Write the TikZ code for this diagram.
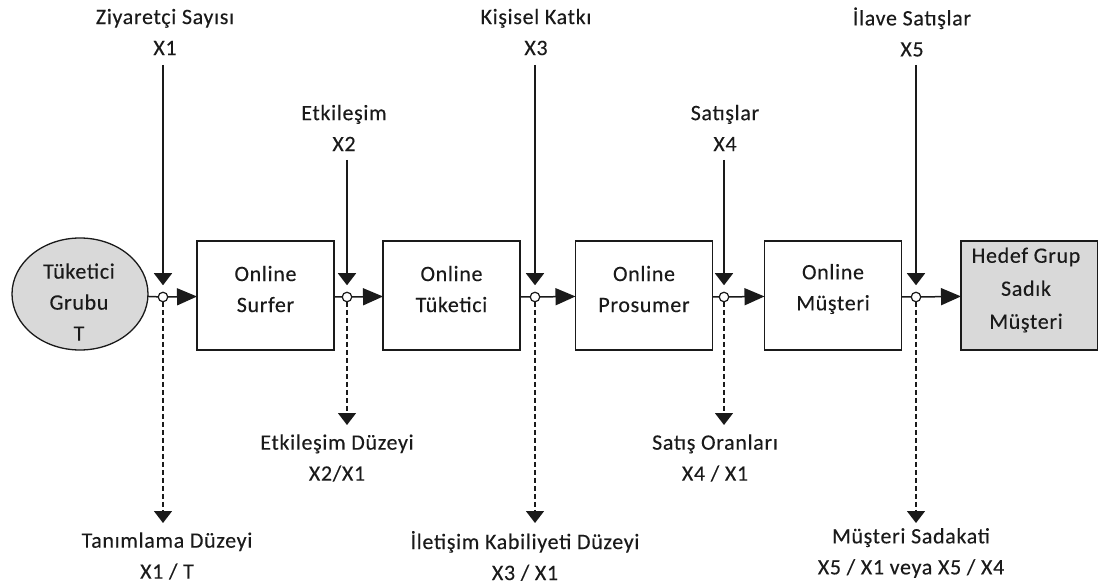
\documentclass[tikz,border=0pt]{standalone}
\usepackage{fontspec}
\setmainfont{Carlito}
\newfontfamily\lblfont{Carlito}[LetterSpace=3,FakeBold=0.2]
\usetikzlibrary{shapes.geometric,arrows.meta}
\definecolor{ink}{HTML}{1A1A1A}
\definecolor{shade}{HTML}{D9D9D9}
\tikzset{
  lbl/.style={align=center,inner sep=0pt,text=ink,font=\lblfont\fontsize{22}{31}\selectfont},
  stage/.style={draw=ink,line width=1.3pt,minimum width=137pt,minimum height=109pt,inner sep=0pt,outer sep=0pt},
  junc/.style={circle,draw=ink,fill=white,line width=1.2pt,minimum size=9.5pt,inner sep=0pt,outer sep=0pt},
  wire/.style={draw=ink,line width=1.5pt},
  feed/.style={wire,-{Triangle[length=12pt,width=18pt]},shorten >=7pt},
  flow/.style={wire,-{Triangle[length=20pt,width=17pt]}},
  probe/.style={wire,dash pattern=on 5pt off 3pt,-{Triangle[length=12pt,width=18pt]}},
}
\begin{document}
\begin{tikzpicture}[x=1pt,y=-1pt]
\useasboundingbox (0,0) rectangle (1098,588);

% source population and stages
\node[ellipse,draw=ink,fill=shade,line width=1.3pt,minimum width=136pt,minimum height=112pt,inner sep=0pt,outer sep=0pt] (tg) at (80,294) {};
\node[lbl] (tgt) at (79,302) {Tüketici\\Grubu\\T};

\node[stage] (s1) at (265.5,295.5) {};
\node[lbl] (s1t) at (265.5,289) {Online\\Surfer};
\node[stage] (s2) at (451.5,295.5) {};
\node[lbl] (s2t) at (451.5,289) {Online\\Tüketici};
\node[stage] (s3) at (644,295.5) {};
\node[lbl] (s3t) at (644,289) {Online\\Prosumer};
\node[stage] (s4) at (833,295.5) {};
\node[lbl] (s4t) at (833,289) {Online\\Müşteri};
\node[stage,fill=shade] (s5) at (1029.5,295.5) {};
\node[lbl,font=\lblfont\fontsize{22}{33}\selectfont] (s5t) at (1026,290) {Hedef Grup\\Sadık\\Müşteri};

% junction points
\node[junc] (j1) at (163,297) {};
\node[junc] (j2) at (347,297) {};
\node[junc] (j3) at (535,297) {};
\node[junc] (j4) at (724,297) {};
\node[junc] (j5) at (916,297) {};

% input measures
\node[lbl] (i1) at (165,32) {Ziyaretçi Sayısı\\X1};
\node[lbl] (i2) at (344,128) {Etkileşim\\X2};
\node[lbl] (i3) at (536,32) {Kişisel Katkı\\X3};
\node[lbl] (i4) at (725,128) {Satışlar\\X4};
\node[lbl] (i5) at (912,32) {İlave Satışlar\\X5};
\coordinate (a1) at (163,65);
\coordinate (a2) at (347,160);
\coordinate (a3) at (535,65);
\coordinate (a4) at (724,160);
\coordinate (a5) at (916,65);

% output ratios
\node[lbl] (o1) at (167,556) {Tanımlama Düzeyi\\X1 / T};
\node[lbl] (o2) at (337,458) {Etkileşim Düzeyi\\X2/X1};
\node[lbl] (o3) at (525,556) {İletişim Kabiliyeti Düzeyi\\X3 / X1};
\node[lbl] (o4) at (715,458) {Satış Oranları\\X4 / X1};
\node[lbl] (o5) at (911,553) {Müşteri Sadakati\\X5 / X1 veya X5 / X4};
\coordinate (b1) at (163,523);
\coordinate (b2) at (347,425);
\coordinate (b3) at (535,523);
\coordinate (b4) at (724,425);
\coordinate (b5) at (916,523);

% main flow
\draw[wire] (tg) -- (j1);
\draw[flow] (j1) -- (s1);
\draw[wire] (s1) -- (j2);
\draw[flow] (j2) -- (s2);
\draw[wire] (s2) -- (j3);
\draw[flow] (j3) -- (s3);
\draw[wire] (s3) -- (j4);
\draw[flow] (j4) -- (s4);
\draw[wire] (s4) -- (j5);
\draw[flow] (j5) -- (s5);

% measures entering each junction
\foreach \k in {1,...,5} {
  \draw[feed] (a\k) -- (j\k);
  \draw[probe] (j\k) -- (b\k);
}
\end{tikzpicture}
\end{document}
